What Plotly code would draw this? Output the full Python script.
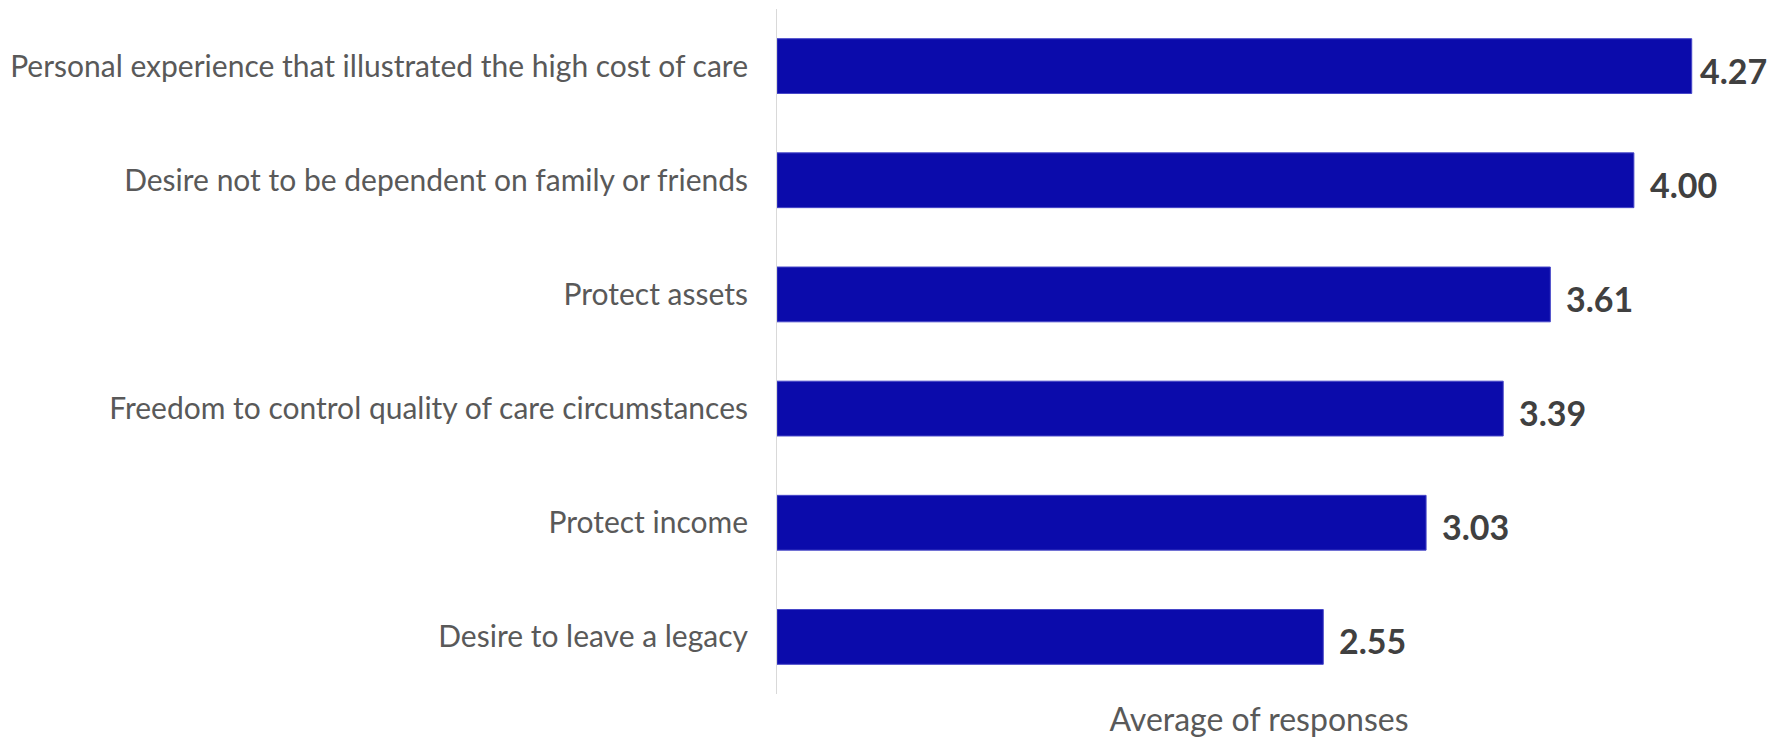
import plotly.graph_objects as go

# Drivers, listed top to bottom, with their average response
drivers = [
    "Personal experience that illustrated the high cost of care",
    "Desire not to be dependent on family or friends",
    "Protect assets",
    "Freedom to control quality of care circumstances",
    "Protect income",
    "Desire to leave a legacy",
]
averages = [4.27, 4.00, 3.61, 3.39, 3.03, 2.55]

x_range = [0, 4.5]
axis_title = "Average of responses"

BAR_COLOR = "#0B0BAB"
LABEL_COLOR = "#595959"
VALUE_COLOR = "#404040"
FONT = "Lato, 'Open Sans', sans-serif"

W, H = 1770, 738
MARGIN = dict(l=777, r=29, t=9, b=44)
PLOT_W = W - MARGIN["l"] - MARGIN["r"]
LABEL_GAP = 14        # usual gap between bar end and its value label
LABEL_ROOM = 72       # space a value label needs, incl. a small edge pad

fig = go.Figure(
    go.Bar(
        x=averages,
        y=drivers,
        orientation="h",
        marker=dict(color=BAR_COLOR, line=dict(color="#4646C8", width=1)),
        hoverinfo="x+y",
    )
)

# Value labels to the right of each bar; pulled in when close to the edge
for name, val in zip(drivers, averages):
    px_to_edge = (x_range[1] - val) / (x_range[1] - x_range[0]) * PLOT_W + MARGIN["r"]
    shift = max(2, min(LABEL_GAP, px_to_edge - LABEL_ROOM))
    fig.add_annotation(
        x=val,
        y=name,
        xref="x",
        yref="y",
        text=f"<b>{val:.2f}</b>",
        showarrow=False,
        xanchor="left",
        yanchor="middle",
        xshift=shift,
        yshift=-4,
        font=dict(family=FONT, size=34, color=VALUE_COLOR),
    )

fig.update_layout(
    width=W,
    height=H,
    margin=MARGIN,
    paper_bgcolor="white",
    plot_bgcolor="white",
    bargap=0.52,
    showlegend=False,
    font=dict(family=FONT, color=LABEL_COLOR),
    xaxis=dict(
        range=x_range,
        automargin=False,
        showgrid=False,
        zeroline=False,
        showticklabels=False,
        ticks="",
        showline=False,
        title=dict(text=axis_title, font=dict(family=FONT, size=32, color=LABEL_COLOR), standoff=16),
    ),
    yaxis=dict(
        autorange="reversed",
        automargin=False,
        showgrid=False,
        zeroline=False,
        showline=True,
        linecolor="#D9D9D9",
        linewidth=1,
        ticks="",
        ticklabelstandoff=22,
        tickfont=dict(family=FONT, size=30, color=LABEL_COLOR),
    ),
)

fig.write_html("out.html")
